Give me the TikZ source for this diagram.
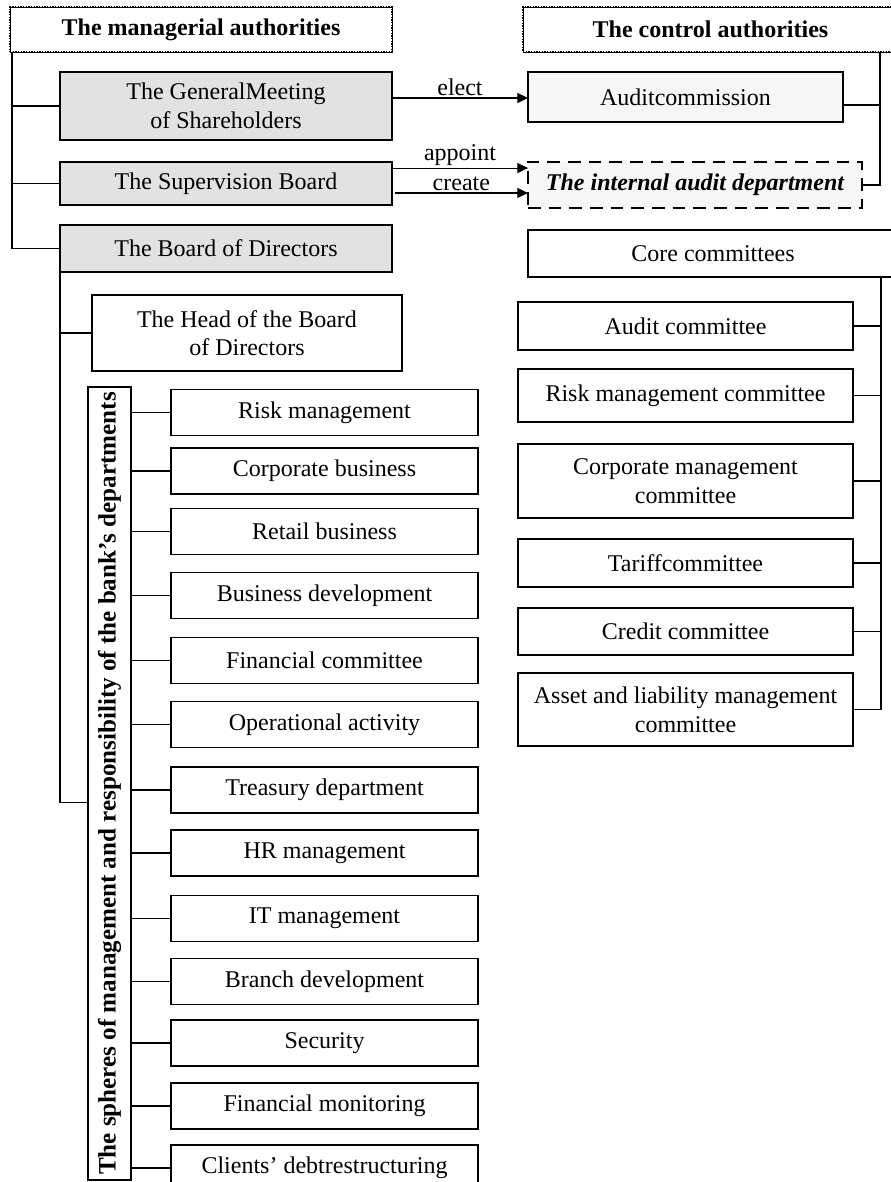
\documentclass[tikz,border=0pt]{standalone}
\usepackage{fontspec}
\setmainfont{Liberation Serif}
\usepackage{graphicx}
\usetikzlibrary{arrows.meta}
\definecolor{fillgray}{RGB}{226,226,226}
\definecolor{fillpale}{RGB}{246,246,246}
\tikzset{
  orgbox/.style={draw, line width=0.8pt, inner sep=1pt, outer sep=0pt, align=center, font=\fontsize{18}{21.5}\selectfont},
  sz/.style 2 args={minimum width=#1*0.75pt, minimum height=#2*0.75pt},
  grayorg/.style={orgbox, fill=fillgray},
  paleorg/.style={orgbox, fill=fillpale},
  boldorg/.style={orgbox, line width=1.8pt},
  dashorg/.style={orgbox, fill=fillpale, line width=1.8pt, dash pattern=on 9.5pt off 6pt, font=\fontsize{18}{21.5}\selectfont\bfseries\itshape},
  titleorg/.style={orgbox, line width=2pt, dash pattern=on 1pt off 1pt, postaction={draw, solid, line width=0.4pt}, font=\fontsize{18}{21.5}\selectfont\bfseries},
  sphbox/.style={orgbox, line width=2.2pt, font=\fontsize{18.8}{22}\selectfont\bfseries},
  conn/.style={line width=0.8pt},
  arr/.style={line width=0.8pt, -{Triangle[length=8pt,width=7.5pt]}},
  lbl/.style={inner sep=1.5pt, font=\fontsize{18}{21.5}\selectfont}
}
\begin{document}
\begin{tikzpicture}[x=0.75pt,y=0.75pt,yscale=-1,xscale=1]
\useasboundingbox (0,0) rectangle (890,1182);

%Shape: title boxes
\node[titleorg, sz={382}{45}] (mgr) at (201,29.5) {The managerial authorities};
\node[titleorg, sz={375}{45}] (ctl) at (710.5,29.5) {The control authorities};

%Shape: managerial authorities
\node[grayorg, sz={332}{68}] (gm) at (226,106) {The GeneralMeeting\\of Shareholders};
\node[grayorg, sz={332}{43}] (sb) at (226,183.5) {The Supervision Board};
\node[grayorg, sz={332}{47}] (bod) at (226,248.5) {The Board of Directors};
\node[boldorg, sz={310}{76}] (head) at (247,333) {The Head of the Board\\of Directors};
\node[sphbox, sz={43}{793}] (sp) at (109.5,783.5) {\rotatebox{90}{The spheres of management and responsibility of the bank's departments}};

%Shape: control authorities
\node[paleorg, sz={315}{50}] (ac) at (685.5,97) {Auditcommission};
\node[dashorg, sz={334}{46}] (ia) at (695,185) {The internal audit department};
\node[boldorg, sz={370}{47}] (core) at (713,253.5) {Core committees};

%Shape: departments
\foreach \txt/\yy [count=\i] in {Risk management/412.5, Corporate business/471, Retail business/531.5,
    Business development/595.5, Financial committee/660.5, Operational activity/724.5,
    Treasury department/790, HR management/853, IT management/918.5, Branch development/981.5,
    Security/1043, Financial monitoring/1106, Clients' debtrestructuring/1168}
  \node[orgbox, sz={307}{46}] (d\i) at (324.5,\yy) {\txt};

%Shape: committees
\foreach \txt/\yy/\hh [count=\i] in {Audit committee/326/48, Risk management committee/395.5/53,
    {Corporate management\\committee}/481/74, Tariffcommittee/563/48, Credit committee/631.5/47,
    {Asset and liability management\\committee}/709.5/73}
  \node[orgbox, sz={335}{\hh}] (c\i) at (685.5,\yy) {\txt};

%Straight Lines: left tree
\coordinate (lbus) at (12,52);
\draw[conn] (lbus) -- (lbus |- bod.west);
\foreach \n in {gm,sb,bod}
  \draw[conn] (lbus |- \n.west) -- (\n.west);
\draw[conn] (bod.south west) |- ([yshift=13.9pt]sp.west);
\draw[conn] (bod.south west |- head.west) -- (head.west);
\foreach \i in {1,...,13}
  \draw[conn] (sp.east |- d\i.west) -- (d\i.west);

%Straight Lines: right tree
\coordinate (cbus) at (880,52);
\coordinate (acr) at ([yshift=6pt]ac.east);
\draw[conn] (cbus) |- (ia.east);
\draw[conn] (acr) -- (acr -| cbus);
\coordinate (rbus) at (881,277);
\draw[conn] (rbus) -- (rbus |- c6.east);
\foreach \i in {1,...,6}
  \draw[conn] (c\i.east) -- (c\i.east -| rbus);

%Arrows
\coordinate (el) at ([yshift=-6pt]gm.east);
\draw[arr] (el) -- node[above, lbl] {elect} (el -| ac.west);
\coordinate (ap) at ([yshift=-11.6pt]sb.east);
\draw[arr] (ap) -- node[above, lbl] {appoint} (ap -| ia.west);
\coordinate (cr) at ([yshift=7.1pt]sb.east);
\draw[arr] ([xshift=2pt]cr) -- node[above, lbl] {create} (cr -| ia.west);

\end{tikzpicture}
\end{document}
